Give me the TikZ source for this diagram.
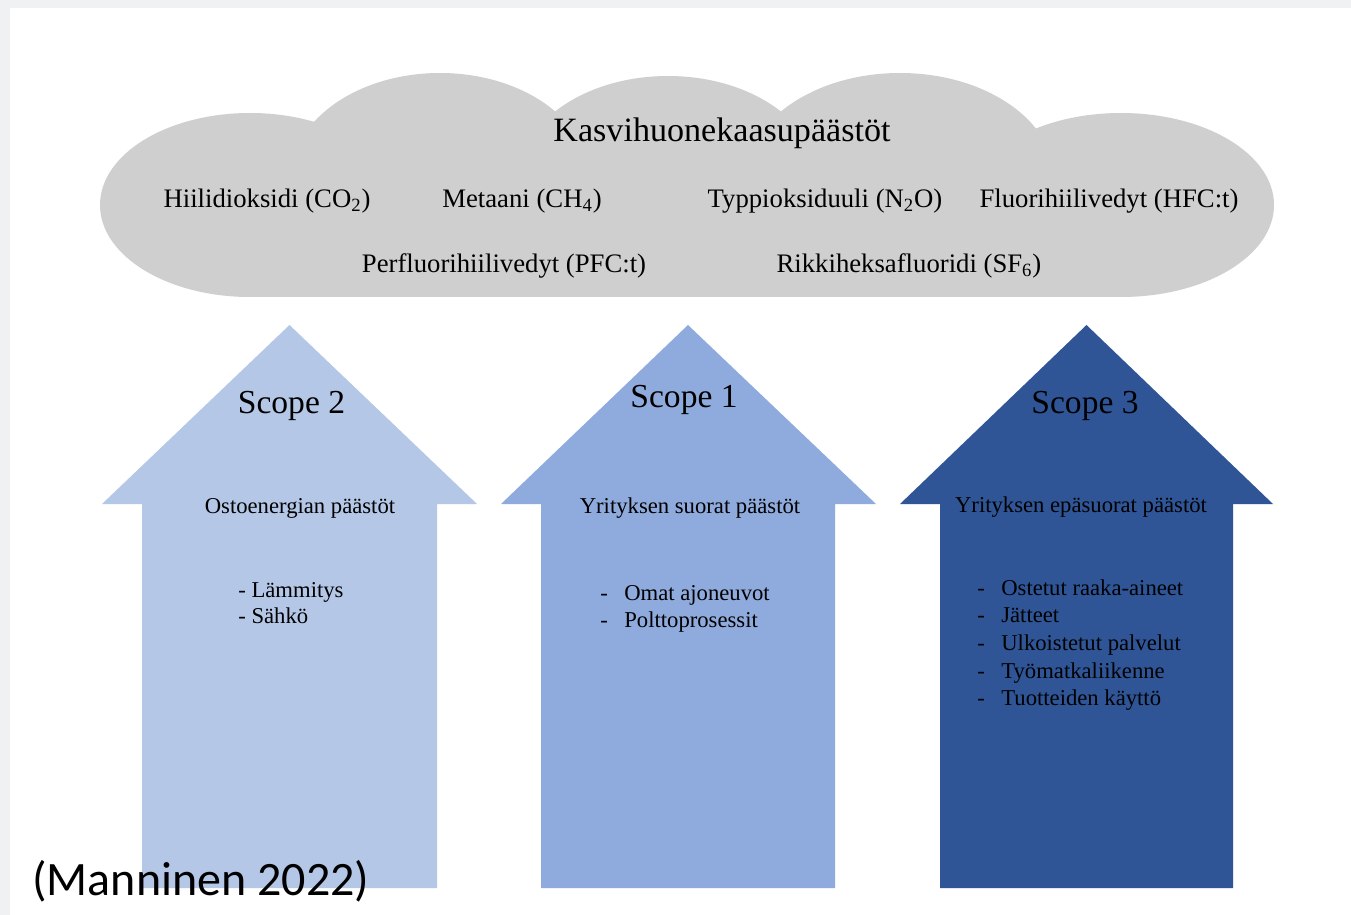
\documentclass[tikz,border=0pt]{standalone}
\usepackage{fontspec}
\setmainfont{Liberation Serif}
\newfontfamily\citefont{Carlito}
\newcommand{\listdash}{\makebox[0.48cm][l]{-}}
\definecolor{cloudgray}{RGB}{208,207,208}
\definecolor{scopelight}{RGB}{180,199,231}
\definecolor{scopemid}{RGB}{143,170,220}
\definecolor{scopedark}{RGB}{47,85,151}
\definecolor{framegray}{RGB}{240,241,243}

\begin{document}
\begin{tikzpicture}[
        x=0.2mm, y=-0.2mm,
        cloudtitle/.style={anchor=base, inner sep=0pt, font=\fontsize{19.4pt}{23pt}\selectfont},
        gas/.style={anchor=base, inner sep=0pt, font=\fontsize{15.2pt}{18pt}\selectfont},
        scopelabel/.style={anchor=base, inner sep=0pt, font=\fontsize{19.1pt}{23pt}\selectfont},
        subtitle/.style={anchor=base, inner sep=0pt, font=\fontsize{12.9pt}{15pt}\selectfont},
        listitem/.style={anchor=base west, inner sep=0pt, font=\fontsize{12.9pt}{15pt}\selectfont}
    ]

        % Page and frame
        \useasboundingbox (0,0) rectangle (1351,915);
        \fill[framegray] (0,0) rectangle (1351,915);
        \fill[white] (10,8) rectangle (1351,915);

        % Cloud
        \begin{scope}
            \clip (0,0) rectangle (1351,297);
            \fill[cloudgray] (250,205) ellipse [x radius=3cm, y radius=1.84cm];
            \fill[cloudgray] (440,180) ellipse [x radius=3cm, y radius=2.14cm];
            \fill[cloudgray] (668,180) ellipse [x radius=3cm, y radius=2.08cm];
            \fill[cloudgray] (900,180) ellipse [x radius=3.1cm, y radius=2.14cm];
            \fill[cloudgray] (1121,205) ellipse [x radius=3.06cm, y radius=1.84cm];
            \fill[cloudgray] (250,150) rectangle (1121,297);
        \end{scope}

        \node[cloudtitle] (ghg) at (722,142) {Kasvihuonekaasupäästöt};
        \node[gas] (co2) at (267,208) {Hiilidioksidi (CO\textsubscript{2})};
        \node[gas] (ch4) at (522,208) {Metaani (CH\textsubscript{4})};
        \node[gas] (n2o) at (825,208) {Typpioksiduuli (N\textsubscript{2}O)};
        \node[gas] (hfc) at (1109,208) {Fluorihiilivedyt (HFC:t)};
        \node[gas] (pfc) at (504,273) {Perfluorihiilivedyt (PFC:t)};
        \node[gas] (sf6) at (909,273) {Rikkiheksafluoridi (SF\textsubscript{6})};

        % Scope 2 arrow
        \fill[scopelight] (142,888) -- (142,504) -- (102,504) -- (289.5,325) -- (477,504) -- (437,504) -- (437,888) -- cycle;
        \node[scopelabel] (s2) at (291.5,413) {Scope 2};
        \node[subtitle] (s2sub) at (300,513) {Ostoenergian päästöt};
        \node[listitem] (s2a) at (238,597) {- Lämmitys};
        \node[listitem] (s2b) at (238,623) {- Sähkö};

        % Scope 1 arrow
        \fill[scopemid] (541,888) -- (541,504) -- (501,504) -- (688,325) -- (876,504) -- (835,504) -- (835,888) -- cycle;
        \node[scopelabel] (s1) at (684,407) {Scope 1};
        \node[subtitle] (s1sub) at (690,513) {Yrityksen suorat päästöt};
        \node[listitem] (s1a) at (600,600) {\listdash Omat ajoneuvot};
        \node[listitem] (s1b) at (600,627) {\listdash Polttoprosessit};

        % Scope 3 arrow
        \fill[scopedark] (940,888) -- (940,504) -- (900,504) -- (1086.5,325) -- (1273,504) -- (1233,504) -- (1233,888) -- cycle;
        \node[scopelabel] (s3) at (1085,413) {Scope 3};
        \node[subtitle] (s3sub) at (1081,512) {Yrityksen epäsuorat päästöt};
        \node[listitem] (s3a) at (977,595) {\listdash Ostetut raaka-aineet};
        \node[listitem] (s3b) at (977,622) {\listdash Jätteet};
        \node[listitem] (s3c) at (977,650) {\listdash Ulkoistetut palvelut};
        \node[listitem] (s3d) at (977,678) {\listdash Työmatkaliikenne};
        \node[listitem] (s3e) at (977,705) {\listdash Tuotteiden käyttö};

        % Source
        \node[anchor=base west, inner sep=0pt, font=\citefont\fontsize{27.3pt}{32pt}\selectfont] (src) at (32,895) {(Manninen 2022)};

    \end{tikzpicture}
\end{document}
